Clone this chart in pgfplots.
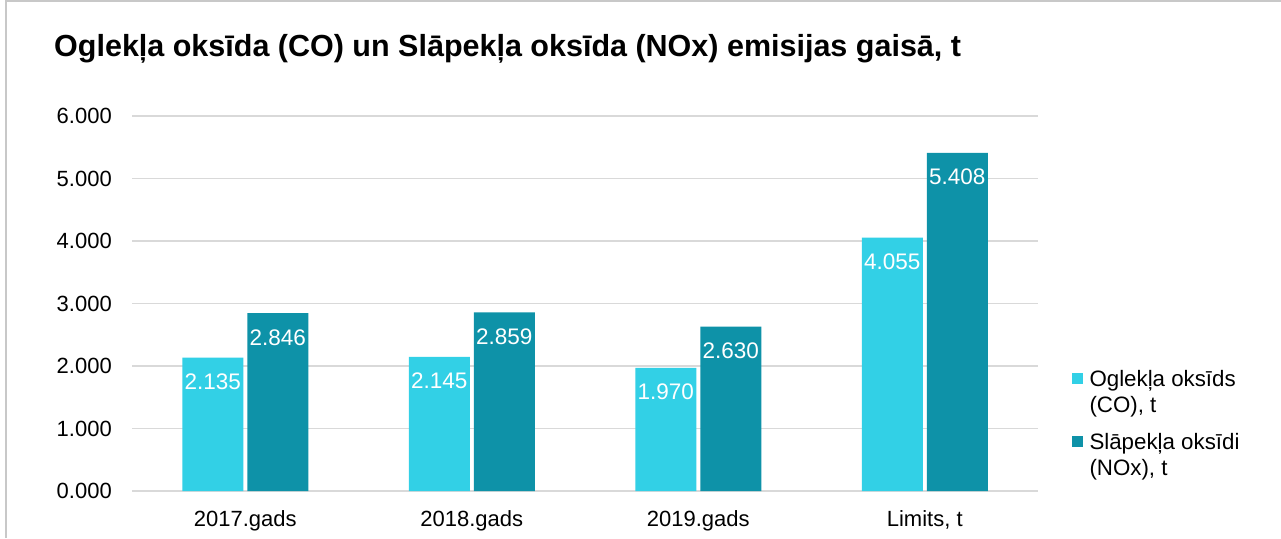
\documentclass[border=0pt]{standalone}
\usepackage{fontspec}
\setmainfont{Liberation Sans}
\usepackage{pgfplots}
\pgfplotsset{compat=1.18}
\definecolor{co}{RGB}{50,208,230}
\definecolor{nox}{RGB}{14,146,168}
\definecolor{gridc}{RGB}{217,217,217}
\definecolor{framec}{RGB}{200,200,200}
\begin{document}
\begin{tikzpicture}[x=1pt,y=1pt]
\useasboundingbox (0,0) rectangle (1281,538);
\fill[white] (0,0) rectangle (1281,538);
\draw[framec, line width=2pt] (6,0) -- (6,537) -- (1281,537);
\node[anchor=base west, inner sep=0pt, font=\fontsize{30.5}{36}\selectfont\bfseries] at (54,481) {Oglekļa oksīda (CO) un Slāpekļa oksīda (NOx) emisijas gaisā, t};
\begin{axis}[
  at={(132pt,47pt)}, anchor=south west,
  scale only axis, width=906pt, height=375pt,
  ybar=4pt, bar width=61pt,
  xmin=-0.5, xmax=3.5, ymin=0, ymax=6,
  xtick={0,1,2,3},
  xticklabels={2017.gads,2018.gads,2019.gads,{Limits, t}},
  ytick={0,1,2,3,4,5,6},
  yticklabel={\pgfmathprintnumber[fixed,fixed zerofill,precision=3]{\tick}},
  /pgf/number format/assume math mode=true,
  axis line style={draw=none},
  major tick length=0pt,
  ymajorgrids,
  grid style={gridc, line width=1.8pt},
  ticklabel style={font=\fontsize{22}{26}\selectfont, text=black},
  yticklabel style={inner sep=0pt, xshift=-20pt},
  xticklabel style={inner sep=0pt, yshift=-19pt},
  nodes near coords={\pgfmathprintnumber[fixed,fixed zerofill,precision=3,assume math mode=true]{\pgfplotspointmeta}},
  nodes near coords style={anchor=north, inner sep=0pt, yshift=-16pt, text=white, font=\fontsize{22.5}{27}\selectfont},
  legend style={draw=none, fill=none, at={(1.0372,0.3267)}, anchor=north west, inner sep=0pt, row sep=16.6pt, column sep=6.6pt, font=\fontsize{22.3}{26}\selectfont, nodes={inner sep=0pt}, cells={anchor=base west}},
]
\addplot[fill=co, draw=none, legend image code/.code={\fill[co] (0pt,28.4pt) rectangle (11pt,39.4pt);}]
  coordinates {(0,2.135) (1,2.145) (2,1.970) (3,4.055)};
\addplot[fill=nox, draw=none, legend image code/.code={\fill[nox] (0pt,28.4pt) rectangle (11pt,39.4pt);}]
  coordinates {(0,2.846) (1,2.859) (2,2.630) (3,5.408)};
\legend{{\begin{tabular}[b]{@{}l@{}}Oglekļa oksīds\\(CO), t\end{tabular}},{\begin{tabular}[b]{@{}l@{}}Slāpekļa oksīdi\\(NOx), t\end{tabular}}}
\end{axis}
\end{tikzpicture}
\end{document}
